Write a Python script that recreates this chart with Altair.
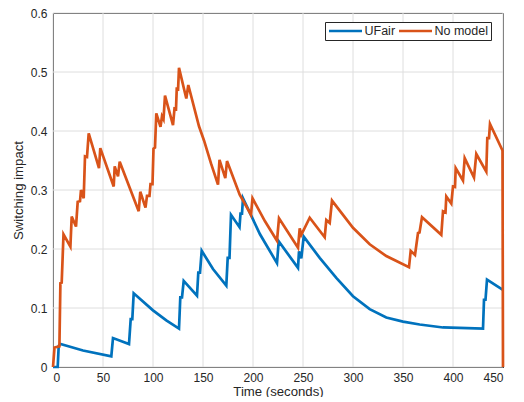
import altair as alt
import pandas as pd

# ---- data ----
series_names = ["UFair", "No model"]
series_colors = ["#0072BD", "#D95319"]

ufair_t = [0, 4.7, 5.7, 7.5, 30, 58.3, 60, 76, 77.7, 79.3, 80.7, 100, 113.3, 126,
           127.3, 129, 130.7, 144, 145.3, 147, 148.7, 160, 173.3, 174.7, 176.5, 178,
           186.5, 187.5, 189, 190, 207, 224, 225.7, 245, 246, 248.3, 250.7, 266.7,
           283.3, 300, 316.7, 333.3, 350, 366.7, 390, 430, 431, 432.5, 434, 449.5]
ufair_v = [0, 0, 0.036, 0.039, 0.028, 0.018, 0.049, 0.039, 0.081, 0.081, 0.125, 0.096,
           0.079, 0.065, 0.118, 0.118, 0.146, 0.121, 0.160, 0.160, 0.197, 0.166, 0.138,
           0.185, 0.185, 0.258, 0.237, 0.26, 0.26, 0.286, 0.225, 0.176, 0.213, 0.168,
           0.196, 0.184, 0.221, 0.185, 0.151, 0.12, 0.098, 0.084, 0.077, 0.072, 0.067,
           0.065, 0.114, 0.114, 0.148, 0.131]

nomodel_t = [0, 1.5, 6.4, 7.4, 8.7, 10.5, 17.4, 18.7, 23, 24.7, 27, 28, 30.7, 32, 34,
             35.7, 46, 47.3, 60.7, 61.7, 65, 66.7, 85.7, 87.3, 92.5, 94, 96.5, 97.5,
             99.5, 100.5, 102, 103.3, 107.5, 109, 110.5, 112, 120, 121.5, 123, 123.8,
             125, 126, 133.3, 135.3, 146, 151, 158, 165, 166.5, 172.3, 174, 186.7, 198,
             199.5, 212, 224, 226, 245, 246.7, 248.3, 256.7, 271.7, 273.3, 276.7, 279,
             300, 316.7, 333.3, 356, 357.7, 362, 365, 366.5, 369, 388.3, 390, 392.5,
             393.3, 398.3, 400, 402, 402.7, 410, 411.7, 421, 423.3, 433.3, 434.3, 436,
             437, 449.5, 450]
nomodel_v = [0, 0.033, 0.035, 0.142, 0.143, 0.225, 0.204, 0.255, 0.238, 0.28, 0.281,
             0.30, 0.286, 0.357, 0.356, 0.396, 0.337, 0.371, 0.306, 0.34, 0.323, 0.348,
             0.264, 0.297, 0.27, 0.29, 0.29, 0.31, 0.31, 0.37, 0.372, 0.43, 0.407,
             0.425, 0.42, 0.46, 0.41, 0.438, 0.437, 0.474, 0.468, 0.507, 0.455, 0.478,
             0.408, 0.384, 0.345, 0.309, 0.351, 0.32, 0.349, 0.292, 0.258, 0.286, 0.247,
             0.214, 0.252, 0.202, 0.235, 0.224, 0.253, 0.22, 0.249, 0.244, 0.282, 0.236,
             0.208, 0.188, 0.169, 0.197, 0.19, 0.227, 0.228, 0.254, 0.224, 0.264,
             0.262, 0.289, 0.277, 0.306, 0.305, 0.337, 0.316, 0.354, 0.321, 0.361,
             0.331, 0.388, 0.388, 0.412, 0.367, 0]

x_ticks = [0, 50, 100, 150, 200, 250, 300, 350, 400, 450]
y_ticks = [0, 0.1, 0.2, 0.3, 0.4, 0.5, 0.6]

df_u = pd.DataFrame({"t": ufair_t, "v": ufair_v, "series": series_names[0],
                     "i": list(range(len(ufair_t)))})
df_n = pd.DataFrame({"t": nomodel_t, "v": nomodel_v, "series": series_names[1],
                     "i": list(range(len(nomodel_t)))})

FONT = "Liberation Sans"
TXT = "#262626"
GRID = "#dedede"

x_scale = alt.Scale(domain=[0, 450], nice=False, zero=False)
y_scale = alt.Scale(domain=[0, 0.6], nice=False)
x_axis = alt.Axis(values=x_ticks, title="Time (seconds)", labelPadding=5,
                  titlePadding=2, format="d", grid=False)
y_axis = alt.Axis(values=y_ticks, title="Switching impact", labelPadding=6,
                  titlePadding=5, grid=False,
                  labelExpr="datum.value == 0 ? '0' : format(datum.value, '.1f')")

x_enc = alt.X("t:Q", scale=x_scale, axis=x_axis)
y_enc = alt.Y("v:Q", scale=y_scale, axis=y_axis)
color_enc = alt.Color(
    "series:N",
    scale=alt.Scale(domain=series_names, range=series_colors),
    legend=alt.Legend(
        title=None, orient="none", legendX=272, legendY=9, direction="horizontal",
        symbolType="stroke", symbolSize=1089, symbolStrokeWidth=2.7,
        clipHeight=13,
        labelFont=FONT, labelFontSize=12.5, labelColor=TXT, labelOffset=1,
        columnPadding=2, padding=2.5, strokeColor=TXT, fillColor="white",
        cornerRadius=0,
    ),
)

# grid lines drawn as rules at the tick values (same fields/axes as the data)
xgrid = alt.Chart(pd.DataFrame({"t": x_ticks})).mark_rule(
    color=GRID, strokeWidth=1).encode(x=x_enc)
ygrid = alt.Chart(pd.DataFrame({"v": y_ticks})).mark_rule(
    color=GRID, strokeWidth=1).encode(y=y_enc)

blue = alt.Chart(df_u).mark_line(strokeWidth=2.7).encode(
    x=x_enc, y=y_enc, color=color_enc, order="i:Q")
orange = alt.Chart(df_n).mark_line(strokeWidth=2.7).encode(
    x=x_enc, y=y_enc, color=color_enc, order="i:Q")

chart = (
    alt.layer(xgrid, ygrid, blue, orange)
    .properties(width=450, height=354,
                autosize=alt.AutoSizeParams(type="none"),
                padding={"left": 45, "top": 5, "right": 10, "bottom": 30})
    .configure_view(stroke=TXT, strokeWidth=1)
    .configure_axis(domainColor=TXT, domainWidth=1, ticks=False, labelFont=FONT,
                    labelFontSize=12, labelColor=TXT, titleFont=FONT,
                    titleFontSize=13.2, titleFontWeight="normal", titleColor=TXT)
)

chart.save("out.html", embed_options={"renderer": "svg", "actions": False})
